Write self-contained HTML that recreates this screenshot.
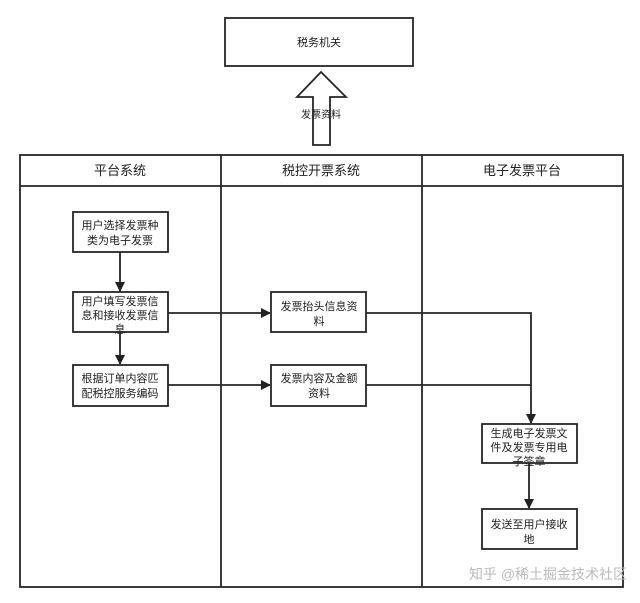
<!DOCTYPE html>
<html><head><meta charset="utf-8"><style>
html,body{margin:0;padding:0;background:#fff;}
svg text{font-family:"Liberation Sans","Noto Sans CJK SC",sans-serif;fill:#222;}
</style></head><body>
<svg width="640" height="598" viewBox="0 0 640 598" xmlns="http://www.w3.org/2000/svg">
<defs><marker id="a" markerWidth="10" markerHeight="10" refX="9" refY="5" orient="auto" markerUnits="userSpaceOnUse"><path d="M0,0 L10,5 L0,10 Z" fill="#222"/></marker></defs>
<g stroke="#262626" stroke-width="1.8" fill="none">
<rect x="225" y="18" width="188" height="48" fill="#fff"/>
<path d="M321,72 L346,97 L330,97 L330,145 L313,145 L313,97 L297,97 Z" fill="#fff"/>
<rect x="20" y="155" width="603" height="432"/>
<line x1="20" y1="186" x2="623" y2="186"/>
<line x1="221" y1="155" x2="221" y2="587"/>
<line x1="422" y1="155" x2="422" y2="587"/>
<rect x="73" y="212" width="95" height="40"/>
<rect x="73" y="292" width="95" height="40"/>
<rect x="73" y="365" width="95" height="41"/>
<rect x="271" y="292" width="95" height="40"/>
<rect x="271" y="365" width="95" height="41"/>
<rect x="482" y="424" width="95" height="39"/>
<rect x="482" y="509" width="95" height="40"/>
<line x1="120" y1="252" x2="120" y2="291" marker-end="url(#a)"/>
<line x1="120" y1="332" x2="120" y2="364" marker-end="url(#a)"/>
<line x1="168" y1="313" x2="270" y2="313" marker-end="url(#a)"/>
<line x1="168" y1="385" x2="270" y2="385" marker-end="url(#a)"/>
<polyline points="366,313 531,313 531,423" marker-end="url(#a)"/>
<polyline points="366,385 531,385"/>
<line x1="529" y1="463" x2="529" y2="508" marker-end="url(#a)"/>
</g>
<g font-size="11" text-anchor="middle">
<text x="319" y="46">税务机关</text>
<text x="321" y="118" font-size="10">发票资料</text>
<text x="120" y="175" font-size="13">平台系统</text>
<text x="321" y="175" font-size="13">税控开票系统</text>
<text x="522" y="175" font-size="13">电子发票平台</text>
<text x="120" y="229">用户选择发票种</text><text x="120" y="244">类为电子发票</text>
<text x="120" y="305">用户填写发票信</text><text x="120" y="319">息和接收发票信</text><text x="120" y="333">息</text>
<text x="120" y="382">根据订单内容匹</text><text x="120" y="397">配税控服务编码</text>
<text x="319" y="310">发票抬头信息资</text><text x="319" y="325">料</text>
<text x="319" y="382">发票内容及金额</text><text x="319" y="397">资料</text>
<text x="529" y="437">生成电子发票文</text><text x="529" y="451">件及发票专用电</text><text x="529" y="465">子签章</text>
<text x="529" y="528">发送至用户接收</text><text x="529" y="543">地</text>
<text x="548" y="579" font-size="14" style="fill:#bbb">知乎 @稀土掘金技术社区</text>
</g>
</svg>
</body></html>
